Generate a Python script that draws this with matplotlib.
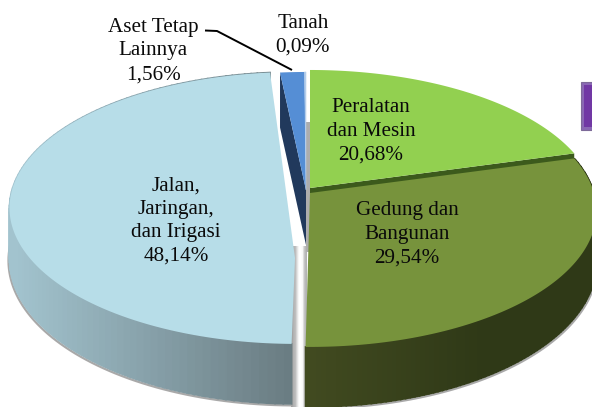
import numpy as np
import matplotlib
matplotlib.use("Agg")
import matplotlib.pyplot as plt
from matplotlib.patches import Polygon, Rectangle
from matplotlib.colors import LinearSegmentedColormap

categories = ["Peralatan\ndan Mesin", "Gedung dan\nBangunan", "Jalan,\nJaringan,\ndan Irigasi",
              "Aset Tetap\nLainnya", "Tanah"]
shares = [20.68, 29.54, 48.14, 1.56, 0.09]
value_labels = ["20,68%", "29,54%", "48,14%", "1,56%", "0,09%"]

plt.rcParams["font.family"] = ["Liberation Serif", "DejaVu Serif"]
fig = plt.figure(figsize=(5.92, 4.07), dpi=100)
ax = fig.add_axes([0, 0, 1, 1])
ax.axis("off")

A, B, K = 284.0, 133.6, 0.132
bounds = np.concatenate([[0], np.cumsum(shares)]) / sum(shares) * 2 * np.pi
centers = [(310, 188), (310, 193), (296, 190), (306, 190), (306, 190)]


def rim(i, n=160):
    t = np.linspace(bounds[i], bounds[i + 1], n)
    u, v = np.sin(t), -np.cos(t)
    d = 1 - K * v
    cx, cy = centers[i]
    return np.column_stack([cx + A * u / d, cy + B * v / d])


def depth(p, i):
    # wall looks taller toward the viewer
    v = np.clip((p[1] - centers[i][1]) / 154.0, 0, 1)
    return 50.0 + 10.0 * v


def wall(i, c0, c1, x0, x1, z):
    cmap = LinearSegmentedColormap.from_list("w", [c0, c1])
    r = rim(i, 120)
    low = np.array([p + (0, depth(p, i)) for p in r])
    ax.plot(low[:, 0] + (1.0 if i == 1 else -1.0), low[:, 1] + 1.5, color="#a9a9a9", lw=1.6, zorder=z - 0.5)
    for k in range(len(r) - 1):
        p, q = r[k], r[k + 1]
        col = cmap(np.clip(((p[0] + q[0]) / 2 - x0) / (x1 - x0), 0, 1))
        ax.add_patch(Polygon([p, q, low[k + 1], low[k]], closed=True, fc=col, ec=col, lw=1.2, zorder=z))


# gap shading between the exploded slices
grad = np.array([[0.62, 0.70, 0.74, 0.88, 1.0, 1.0, 0.97, 0.78, 0.70]])
ax.imshow(grad, extent=(291, 307, 407, 246), cmap="gray", vmin=0, vmax=1,
          aspect="auto", interpolation="bilinear", zorder=1)
ax.add_patch(Rectangle((306, 122), 5, 130, fc="#adadad", ec="none", zorder=1))

# Peralatan: dark cut edge seen below its right side
r0 = rim(0)
ax.add_patch(Polygon([centers[0], r0[-1], r0[-1] + (0, 6), np.array(centers[0]) + (0, 6)],
                     closed=True, fc="#3c5a1c", ec="none", zorder=2))

# side walls
wall(1, "#414a20", "#2f3917", 310, 480, 2)
wall(2, "#6a7c82", "#a2c3ce", 290, 15, 2)

# top faces
r1 = rim(1)
ax.add_patch(Polygon(np.vstack([[centers[1]], r1]), closed=True, fc="#77933c", ec="none", zorder=3))
ax.add_patch(Polygon(np.vstack([[centers[0]], r0]), closed=True, fc="#92d050", ec="none", zorder=4))
r2 = rim(2)
ax.add_patch(Polygon(np.vstack([[(295, 258)], r2]), closed=True, fc="#b7dde8", ec="none", zorder=5))

# Aset Tetap Lainnya and Tanah
r3 = rim(3)
ap = np.array(centers[3], float)
ax.add_patch(Polygon([r3[0], r3[0] + (0, 55), ap + (0, 55), ap], closed=True,
                     fc="#21395c", ec="none", zorder=6))
ax.add_patch(Polygon(np.vstack([[ap], r3]), closed=True, fc="#558ed5", ec="none", zorder=7))
r4 = rim(4)
ax.add_patch(Polygon(np.vstack([[ap], r4]), closed=True, fc="#b3cdea", ec="#b3cdea", lw=0.4, zorder=7))

# small purple legend remnant
ax.add_patch(Rectangle((582, 84), 14, 47, fc="#c9c6cf", ec="none", zorder=7.5))
ax.add_patch(Rectangle((581, 82), 14, 48, fc="#8a68b4", ec="#7d6a98", lw=0.8, zorder=8))
ax.add_patch(Rectangle((584, 85), 10, 42, fc="#7138a4", ec="none", zorder=9))

# leader line
ax.plot([205, 217, 292], [30.5, 31, 70], color="black", lw=1.4, zorder=10, solid_capstyle="butt")

fs = 15.2
ls = 1.33
kw = dict(ha="center", va="center", fontsize=fs, linespacing=ls, zorder=11, color="#0a0a0a")
ax.text(303, 35, categories[4] + "\n" + value_labels[4], **kw)
ax.text(153, 51, categories[3] + "\n" + value_labels[3], **kw)
ax.text(371, 131, categories[0] + "\n" + value_labels[0], **kw)
ax.text(407, 234, categories[1] + "\n" + value_labels[1], **kw)
ax.text(176, 221, categories[2] + "\n" + value_labels[2], **kw)

ax.set_xlim(0, 592)
ax.set_ylim(407, 0)
fig.savefig("out.png", dpi=100, facecolor="white")
